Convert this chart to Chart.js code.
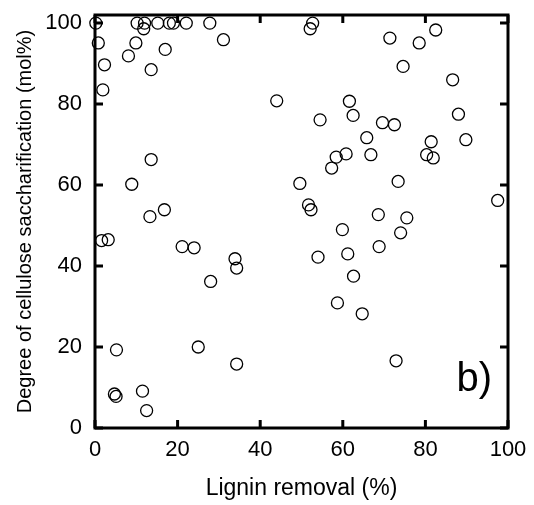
<!DOCTYPE html>
<html>
<head>
<meta charset="utf-8">
<script src="https://cdn.jsdelivr.net/npm/chart.js@4/dist/chart.umd.min.js"></script>
<style>
  html, body { margin: 0; padding: 0; background: #fff; }
  #wrap { width: 534px; height: 505px; position: relative; }
</style>
</head>
<body>
<div id="wrap"><canvas id="myScatter"></canvas></div>
<script>
// Lignin removal (%) vs degree of cellulose saccharification (mol%)
const ligninRemoval = [
    0.2, 0.8, 1.9, 2.3, 1.6, 3.2, 5.2, 4.7, 5.1,
    8.1, 8.9, 9.9, 10.2, 11.8, 12.0, 11.5, 12.5, 13.3, 13.6, 13.6, 15.2, 16.8, 17.0, 18.0, 19.0,
    21.1, 22.1, 24.0, 25.0, 27.8, 28.0, 31.1, 33.9, 34.3, 34.3,
    44.0, 49.6, 51.7, 52.1, 52.3, 52.7, 54.0, 54.5, 57.3, 58.4, 58.7, 59.9,
    60.8, 61.2, 61.6, 62.5, 62.6, 64.7, 65.8, 66.8, 68.6, 68.8, 69.6,
    71.4, 72.5, 72.9, 73.4, 74.0, 74.6, 75.5, 78.5, 80.3, 81.4, 81.9,
    82.5, 86.6, 88.0, 89.8, 97.5
];
const saccharification = [
    100, 95.1, 83.5, 89.7, 46.3, 46.5, 19.3, 8.4, 7.8,
    91.9, 60.2, 95.1, 100, 98.6, 100, 9.1, 4.3, 52.2, 88.5, 66.3, 100, 53.9, 93.5, 100, 100,
    44.8, 100, 44.5, 20.0, 100, 36.2, 95.9, 41.8, 39.5, 15.8,
    80.8, 60.4, 55.1, 98.6, 53.9, 100, 42.2, 76.1, 64.2, 66.9, 30.9, 49.0,
    67.7, 43.0, 80.7, 77.2, 37.5, 28.2, 71.7, 67.5, 52.7, 44.8, 75.4,
    96.3, 74.9, 16.6, 60.9, 48.2, 89.3, 51.9, 95.1, 67.5, 70.7, 66.7,
    98.3, 86.0, 77.5, 71.2, 56.2
];
const xTicks = [0, 20, 40, 60, 80, 100];
const yTicks = [0, 20, 40, 60, 80, 100];

const points = ligninRemoval.map((x, i) => ({ x: x, y: saccharification[i] }));

// frame + inward ticks on all four sides
const frameTicks = {
    id: 'frameTicks',
    afterDatasetsDraw(chart) {
        const { ctx, chartArea: a, scales: { x, y } } = chart;
        ctx.save();
        ctx.strokeStyle = '#000';
        ctx.lineWidth = 3;
        ctx.strokeRect(a.left, a.top, a.right - a.left, a.bottom - a.top);
        const len = 8;
        ctx.beginPath();
        xTicks.forEach(v => {
            const px = x.getPixelForValue(v);
            ctx.moveTo(px, a.bottom); ctx.lineTo(px, a.bottom - len);
            ctx.moveTo(px, a.top); ctx.lineTo(px, a.top + len);
        });
        yTicks.forEach(v => {
            const py = y.getPixelForValue(v);
            ctx.moveTo(a.left, py); ctx.lineTo(a.left + len, py);
            ctx.moveTo(a.right, py); ctx.lineTo(a.right - len, py);
        });
        ctx.stroke();
        // panel label
        ctx.fillStyle = '#000';
        ctx.font = '40px "Liberation Sans", Arial, sans-serif';
        ctx.textAlign = 'right';
        ctx.textBaseline = 'alphabetic';
        ctx.fillText('b)', a.right - 16, a.bottom - 37);
        ctx.restore();
    }
};

const fam = '"Liberation Sans", Arial, sans-serif';

const scatterChart = new Chart(document.getElementById('myScatter'), {
    type: 'scatter',
    data: {
        datasets: [{
            data: points,
            pointStyle: 'circle',
            pointRadius: 6,
            pointBorderWidth: 1.3,
            pointBorderColor: '#000',
            pointBackgroundColor: 'rgba(255,255,255,0)',
            clip: false
        }]
    },
    options: {
        responsive: true,
        maintainAspectRatio: false,
        animation: false,
        layout: { padding: { top: 15, right: 26, left: 0, bottom: 0 } },
        scales: {
            x: {
                type: 'linear',
                min: 0,
                max: 100,
                afterBuildTicks: s => { s.ticks = xTicks.map(v => ({ value: v })); },
                afterFit: s => { s.height = 77; s.paddingLeft = 0; s.paddingRight = 0; },
                grid: { display: false, drawTicks: false },
                border: { display: false },
                ticks: { color: '#000', font: { family: fam, size: 22 }, padding: 9, maxRotation: 0 },
                title: { display: true, text: 'Lignin removal (%)', color: '#000', font: { family: fam, size: 23 }, padding: { top: 0, bottom: 3 } }
            },
            y: {
                type: 'linear',
                min: 0,
                max: 102,
                afterBuildTicks: s => { s.ticks = yTicks.map(v => ({ value: v })); },
                afterFit: s => { s.width = 95; s.paddingTop = 0; s.paddingBottom = 0; },
                grid: { display: false, drawTicks: false },
                border: { display: false },
                ticks: { color: '#000', font: { family: fam, size: 22 }, padding: 13 },
                title: { display: true, text: 'Degree of cellulose saccharification (mol%)', color: '#000', font: { family: fam, size: 20 }, padding: { top: 13, bottom: 0 } }
            }
        },
        plugins: {
            legend: { display: false },
            tooltip: { enabled: false }
        }
    },
    plugins: [frameTicks]
});
</script>
</body>
</html>
